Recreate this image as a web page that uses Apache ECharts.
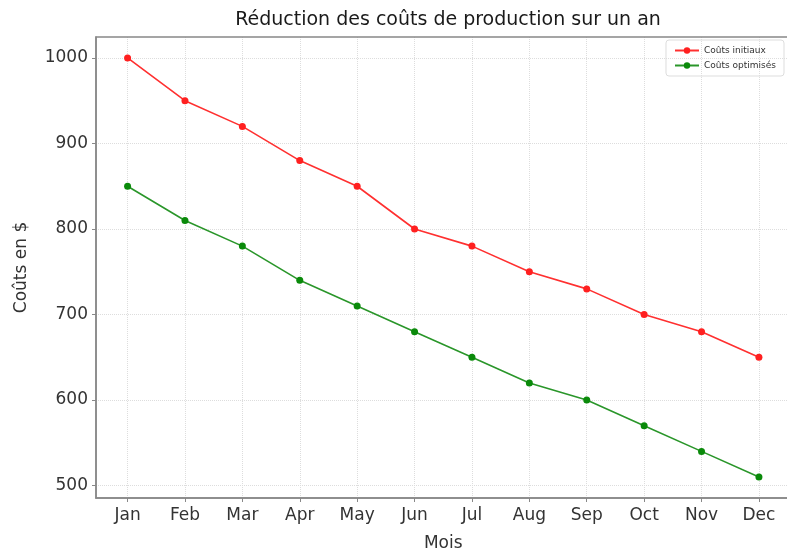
<!DOCTYPE html>
<html lang="fr">
<head>
<meta charset="UTF-8">
<title>Réduction des coûts</title>
<script src="https://cdn.jsdelivr.net/npm/echarts@6/dist/echarts.min.js"></script>
<style>
  html, body { margin: 0; padding: 0; background: #fff; }
  #main { width: 787px; height: 553px; }
</style>
</head>
<body>
<div id="main"></div>
<script>
// données du graphique
var mois = ['Jan', 'Feb', 'Mar', 'Apr', 'May', 'Jun', 'Jul', 'Aug', 'Sep', 'Oct', 'Nov', 'Dec'];
var coutsInitiaux = [1000, 950, 920, 880, 850, 800, 780, 750, 730, 700, 680, 650];
var coutsOptimises = [850, 810, 780, 740, 710, 680, 650, 620, 600, 570, 540, 510];
var yTicks = [500, 600, 700, 800, 900, 1000];

var police = 'DejaVu Sans';
var xTicks = mois.map(function (m, i) { return i; });
function paires(vals) {
    return vals.map(function (v, i) { return [i, v]; });
}

var chart = echarts.init(document.getElementById('main'));

var option = {
    animation: false,
    textStyle: { fontFamily: police },
    title: {
        text: 'Réduction des coûts de production sur un an',
        left: 443, top: 6, textAlign: 'center',
        textStyle: { fontSize: 19, fontWeight: 'normal', color: '#1a1a1a', fontFamily: police }
    },
    legend: {
        data: ['Coûts initiaux', 'Coûts optimisés'],
        orient: 'vertical',
        right: 3, top: 40,
        itemWidth: 24, itemHeight: 8, itemGap: 6,
        padding: [6, 8],
        borderColor: '#ddd', borderWidth: 1, borderRadius: 3,
        textStyle: { fontSize: 9, color: '#333' }
    },
    grid: { left: 96, right: -3.5, top: 37, bottom: 55, outerBoundsMode: 'none', containLabel: false },
    xAxis: {
        type: 'value',
        min: -0.55, max: 11.55,
        name: 'Mois',
        nameLocation: 'middle',
        nameGap: 37,
        nameTextStyle: { fontSize: 17, color: '#333' },
        axisLine: { onZero: false, lineStyle: { color: '#888', width: 1.5 } },
        axisTick: { show: true, length: 4, customValues: xTicks, lineStyle: { color: '#888' } },
        axisLabel: {
            fontSize: 17, color: '#333', margin: 9, customValues: xTicks,
            formatter: function (v) { return mois[Math.round(v)]; }
        },
        splitLine: { show: true, lineStyle: { color: '#ddd', type: 'dotted' } }
    },
    yAxis: {
        type: 'value',
        min: 485.5, max: 1024.5,
        name: 'Coûts en $',
        nameLocation: 'middle',
        nameGap: 66,
        nameTextStyle: { fontSize: 17, color: '#333' },
        axisLine: { show: true, onZero: false, lineStyle: { color: '#888', width: 1.5 } },
        axisTick: { show: true, length: 4, customValues: yTicks, lineStyle: { color: '#888' } },
        axisLabel: {
            fontSize: 17, color: '#333', margin: 8, customValues: yTicks,
            formatter: function (v) { return String(v); }
        },
        splitLine: { show: true, lineStyle: { color: '#ddd', type: 'dotted' } }
    },
    series: [
        {
            name: 'Coûts initiaux',
            type: 'line',
            data: paires(coutsInitiaux),
            symbol: 'circle', symbolSize: 7,
            itemStyle: { color: '#ff2020' },
            lineStyle: { color: '#ff3030', width: 1.6 }
        },
        {
            name: 'Coûts optimisés',
            type: 'line',
            data: paires(coutsOptimises),
            symbol: 'circle', symbolSize: 7,
            itemStyle: { color: '#0a8a0a' },
            lineStyle: { color: '#2a962a', width: 1.6 }
        }
    ]
};

chart.setOption(option);

// cadre (spines haut et droite)
chart.setOption({
    graphic: [{
        type: 'rect',
        shape: { x: 96, y: 37, width: 694.5, height: 461 },
        style: { fill: 'none', stroke: '#888', lineWidth: 1.5 },
        silent: true, z: 0
    }]
});
</script>
</body>
</html>
